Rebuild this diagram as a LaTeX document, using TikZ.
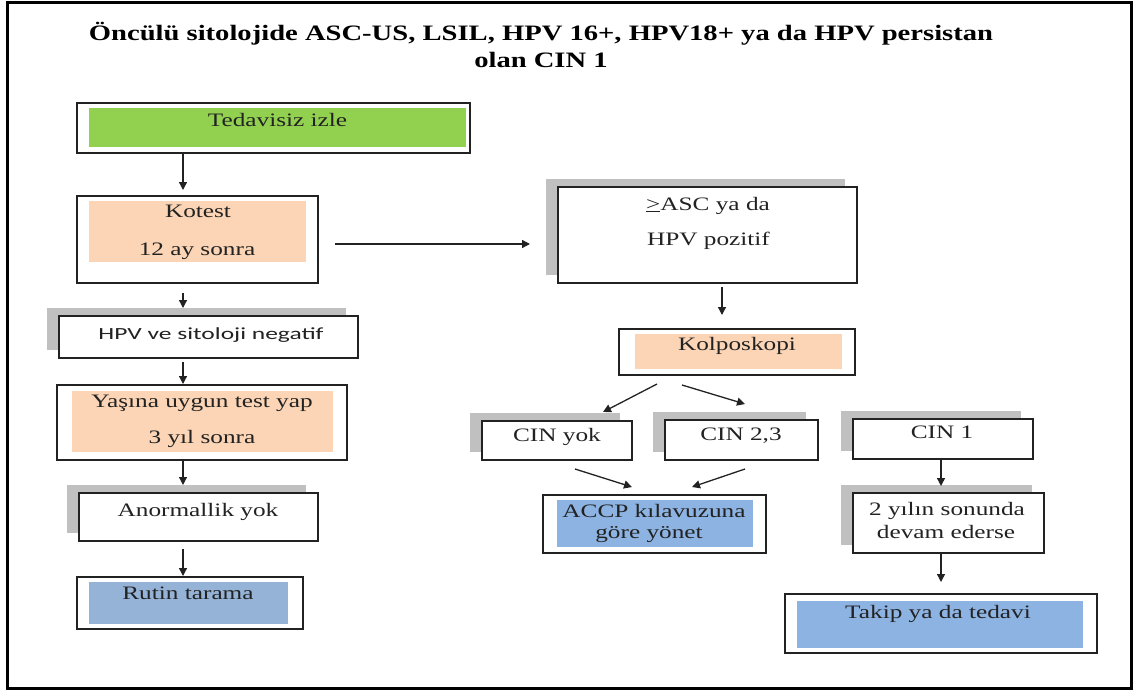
\documentclass[tikz,border=0pt]{standalone}
\usepackage{fontspec}
\setmainfont{Liberation Serif}[FakeStretch=1.33]
\newfontfamily\headfont{Liberation Serif}[FakeStretch=1.3]
\newfontfamily\calfont{Carlito}[FakeStretch=1.5]
\usetikzlibrary{arrows.meta,shadows,calc}
\definecolor{leaf}{HTML}{92D050}
\definecolor{peach}{HTML}{FBD5B5}
\definecolor{steel}{HTML}{95B3D7}
\definecolor{sky}{HTML}{8DB3E2}
\definecolor{ink}{HTML}{222222}
\definecolor{shade}{HTML}{C0C0C0}
\tikzset{
  frame/.style={draw=ink, line width=1.8pt, fill=white, anchor=north west, inner sep=0pt, outer sep=0pt},
  shadowed/.style={drop shadow={shadow xshift=-12pt, shadow yshift=8pt, fill=shade, opacity=1}},
  band/.style={anchor=north west, inner sep=0pt, outer sep=0pt, draw=none},
  lbl/.style={anchor=base, inner sep=0pt, font=\fontsize{19}{23}\selectfont, text=ink},
  slbl/.style={anchor=base, inner sep=0pt, font=\calfont\fontsize{17}{20}\selectfont, text=ink},
  arr/.style={draw=ink, line width=1.3pt, -{Triangle[length=8pt,width=8pt]}},
}
\begin{document}
\begin{tikzpicture}[x=1pt,y=-1pt]
\useasboundingbox (0,0) rectangle (1134,691);
% outer frame
\draw[line width=3pt, draw=black] (7.5,2) rectangle (1131,688);

% title
\node[anchor=base, inner sep=0pt, font=\headfont\bfseries\fontsize{22}{26}\selectfont] (t1) at (541,40)
  {Öncülü sitolojide ASC-US, LSIL, HPV 16+, HPV18+ ya da HPV persistan};
\node[anchor=base, inner sep=0pt, font=\headfont\bfseries\fontsize{22}{26}\selectfont] (t2) at (541,67)
  {olan CIN 1};

% left column
\node[frame, minimum width=393pt, minimum height=50pt] (ted) at (77,103) {};
\node[band, fill=leaf, minimum width=377pt, minimum height=39pt] (tedf) at (89,108) {};
\node[lbl] (tedl) at (277.5,126) {Tedavisiz izle};

\node[frame, minimum width=241pt, minimum height=87pt] (kot) at (77,196) {};
\node[band, fill=peach, minimum width=217pt, minimum height=61pt] (kotf) at (89,201) {};
\node[lbl] (kotl1) at (198,217) {Kotest};
\node[lbl] (kotl2) at (197,255) {12 ay sonra};

\node[frame, shadowed, minimum width=299pt, minimum height=42pt] (hpv) at (59,316) {};
\node[slbl] (hpvl) at (211,339) {HPV ve sitoloji negatif};

\node[frame, minimum width=290pt, minimum height=75pt] (yas) at (57,385) {};
\node[band, fill=peach, minimum width=261pt, minimum height=61pt] (yasf) at (72,391) {};
\node[lbl] (yasl1) at (202,407) {Yaşına uygun test yap};
\node[lbl] (yasl2) at (202,443) {3 yıl sonra};

\node[frame, shadowed, minimum width=239pt, minimum height=48pt] (ano) at (79,493) {};
\node[lbl] (anol) at (198,516) {Anormallik yok};

\node[frame, minimum width=226pt, minimum height=52pt] (rut) at (77,577) {};
\node[band, fill=steel, minimum width=199pt, minimum height=42pt] (rutf) at (89,582) {};
\node[lbl] (rutl) at (188,599) {Rutin tarama};

% right part
\node[frame, shadowed, minimum width=299pt, minimum height=96pt] (asc) at (558,187) {};
\node[lbl] (ascl1) at (708,210) {\underline{>}ASC ya da};
\node[lbl] (ascl2) at (708.5,245) {HPV pozitif};

\node[frame, minimum width=236pt, minimum height=46pt] (kol) at (619,329) {};
\node[band, fill=peach, minimum width=207pt, minimum height=35pt] (kolf) at (635,334) {};
\node[lbl] (koll) at (737,350) {Kolposkopi};

\node[frame, shadowed, minimum width=150pt, minimum height=39pt] (cinyok) at (482,421) {};
\node[lbl] (cinyokl) at (557,441) {CIN yok};

\node[frame, shadowed, minimum width=153pt, minimum height=40pt] (cin23) at (665,420) {};
\node[lbl] (cin23l) at (741,440) {CIN 2,3};

\node[frame, minimum width=223pt, minimum height=58pt] (accp) at (543,495) {};
\node[band, fill=sky, minimum width=196pt, minimum height=47pt] (accpf) at (557,500) {};
\node[lbl] (accpl1) at (654,517) {ACCP kılavuzuna};
\node[lbl] (accpl2) at (649,538) {göre yönet};

\node[frame, shadowed, minimum width=180pt, minimum height=40pt] (cin1) at (853,419) {};
\node[lbl] (cin1l) at (942,438) {CIN 1};

\node[frame, shadowed, minimum width=191pt, minimum height=60pt] (two) at (853,493) {};
\node[lbl] (twol1) at (947,515) {2 yılın sonunda};
\node[lbl] (twol2) at (946,538) {devam ederse};

\node[frame, minimum width=312pt, minimum height=59pt] (tak) at (785,594) {};
\node[band, fill=sky, minimum width=286pt, minimum height=47pt] (takf) at (797,601) {};
\node[lbl] (takl) at (938,618) {Takip ya da tedavi};

% connectors
\coordinate (lc) at (183,0);
\coordinate (hy) at (0,244);
\coordinate (rc) at (722,0);
\coordinate (cc) at (941,0);
\draw[arr, shorten >=6pt] (ted.south -| lc) -- (kot.north -| lc);
\draw[arr, shorten <=10pt, shorten >=8pt] (kot.south -| lc) -- (hpv.north -| lc);
\draw[arr, shorten <=4pt, shorten >=1pt] (hpv.south -| lc) -- (yas.north -| lc);
\draw[arr, shorten >=8pt] (yas.south -| lc) -- (ano.north -| lc);
\draw[arr, shorten <=8pt, shorten >=1pt] (ano.south -| lc) -- (rut.north -| lc);
\draw[arr, shorten <=17pt, shorten >=28pt] (kot.east |- hy) -- (asc.west |- hy);
\draw[arr, shorten <=4pt, shorten >=14pt] (asc.south -| rc) -- (kol.north -| rc);
\draw[arr] ($(kol.south west)+(38,9)$) -- ($(cinyok.north east)+(-29,-9)$);
\draw[arr] ($(kol.south west)+(63,10)$) -- ($(cin23.north)+(3.5,-16)$);
\draw[arr] ($(cinyok.south)+(18,9)$) -- ($(accp.north)+(-22.5,-8)$);
\draw[arr] ($(cin23.south)+(3.5,9)$) -- ($(accp.north)+(37.5,-8)$);
\draw[arr, shorten <=1pt, shorten >=7pt] (cin1.south -| cc) -- (two.north -| cc);
\draw[arr, shorten <=1pt, shorten >=12pt] (two.south -| cc) -- (tak.north -| cc);
\end{tikzpicture}
\end{document}
